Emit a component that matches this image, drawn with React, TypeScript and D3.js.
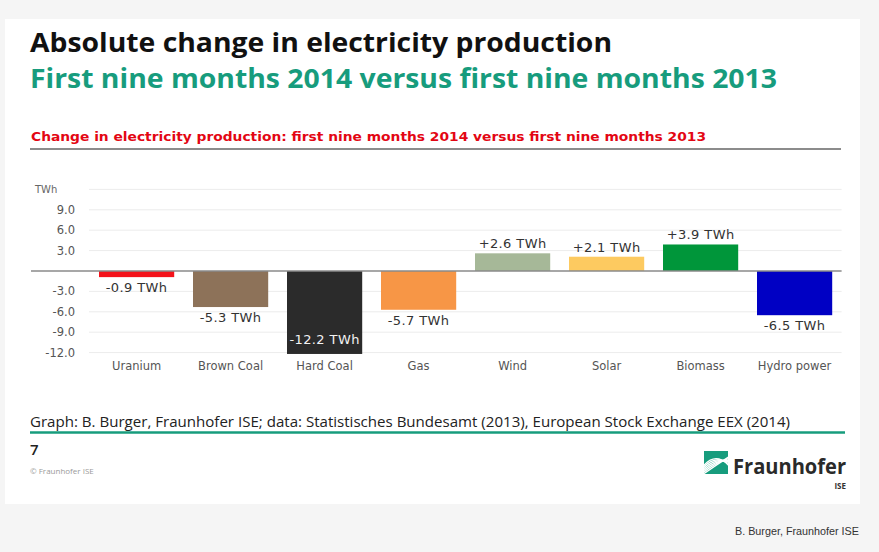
import React, {useEffect} from 'react';
import * as d3 from 'd3';

const categories = ['Uranium', 'Brown Coal', 'Hard Coal', 'Gas', 'Wind', 'Solar', 'Biomass', 'Hydro power'];
const changes = [-0.9, -5.3, -12.2, -5.7, 2.6, 2.1, 3.9, -6.5];
const barColors = ['#f4121a', '#8d7259', '#2b2b2b', '#f79646', '#a6b898', '#fdca60', '#00963a', '#0000c4'];
const yTicks = [9, 6, 3, -3, -6, -9, -12];
const gridValues = [12, 9, 6, 3, -3, -6, -9, -12];

const W = 879;
const H = 552;
const GREEN = '#179c7d';

const fmt = (v: number) => `${v > 0 ? '+' : ''}${v.toFixed(1)} TWh`;

const Logo: React.FC<{x: number; y: number}> = ({x, y}) => {
  // green square with white fanned stripes
  const stripes = [0, 1, 2, 3, 4, 5];
  return (
    <g transform={`translate(${x},${y})`}>
      <defs>
        <clipPath id="logoClip">
          <rect x={0} y={0} width={24} height={23} />
        </clipPath>
      </defs>
      <rect x={0} y={0} width={24} height={23} fill={GREEN} />
      <g clipPath="url(#logoClip)" stroke="#fff" strokeWidth={1.4} fill="none">
        {stripes.map((i) => (
          <path key={i} d={`M-2,${24 - i * 1.5} Q12,${14 - i * 3} 26,${5 + i * 2.2}`} />
        ))}
      </g>
    </g>
  );
};

const App: React.FC = () => {
  useEffect(() => {
    document.body.style.margin = '0';
  }, []);

  const x = d3.scaleBand<string>().domain(categories).range([89.6, 841.6]).paddingInner(0.2).paddingOuter(0.1);
  const y = d3.scaleLinear().domain([-12, 12]).range([352.6, 189.4]);
  const y0 = y(0);

  const tickFont = '"DejaVu Sans", Verdana, sans-serif';

  return (
    <svg width={W} height={H} style={{display: 'block', position: 'absolute', left: 0, top: 0}}>
      <rect x={0} y={0} width={W} height={H} fill="#f5f5f5" />
      <rect x={5} y={19} width={855} height={485} fill="#ffffff" />

      {/* titles */}
      <text x={30} y={52} fontFamily='"Open Sans", sans-serif' fontWeight={700} fontSize={27} fill="#111"
        textLength={582} lengthAdjust="spacingAndGlyphs">
        Absolute change in electricity production
      </text>
      <text x={30} y={88} fontFamily='"Open Sans", sans-serif' fontWeight={700} fontSize={26} fill={GREEN}
        textLength={747} lengthAdjust="spacingAndGlyphs">
        First nine months 2014 versus first nine months 2013
      </text>

      <text x={31} y={141} fontFamily={tickFont} fontWeight={700} fontSize={13} fill="#e30613"
        textLength={675} lengthAdjust="spacingAndGlyphs">
        Change in electricity production: first nine months 2014 versus first nine months 2013
      </text>
      <line x1={30} x2={841} y1={149} y2={149} stroke="#666" strokeWidth={1.6} />

      {/* grid */}
      {gridValues.map((v) => (
        <line key={v} x1={89} x2={841.6} y1={y(v)} y2={y(v)} stroke="#ececec" strokeWidth={1} />
      ))}
      {yTicks.map((v) => (
        <text key={v} x={75} y={y(v)} dy="0.35em" textAnchor="end" fontFamily={tickFont}
          fontSize={11.5} fill="#555">
          {v.toFixed(1)}
        </text>
      ))}
      <text x={35} y={y(12)} dy="0.35em" fontFamily={tickFont} fontSize={10} fill="#666">TWh</text>

      {/* bars */}
      {categories.map((c, i) => {
        const v = changes[i];
        const top = Math.min(y(v), y0);
        return (
          <rect key={c} x={x(c)} y={top} width={x.bandwidth()} height={Math.abs(y(v) - y0)}
            fill={barColors[i]} />
        );
      })}
      <line x1={31} x2={841.6} y1={y0} y2={y0} stroke="#8a8a8a" strokeWidth={1.6} />

      {/* value labels */}
      {categories.map((c, i) => {
        const v = changes[i];
        const cx = (x(c) ?? 0) + x.bandwidth() / 2;
        const inside = v < -10;
        const ly = v > 0 ? y(v) - 5 : inside ? y(v) - 10 : y(v) + 15;
        return (
          <text key={c} x={cx} y={ly} textAnchor="middle" fontFamily={tickFont} fontSize={13}
            letterSpacing={0.4} fill={inside ? '#f2f2f2' : '#333'}>
            {fmt(v)}
          </text>
        );
      })}

      {/* category labels */}
      {categories.map((c) => (
        <text key={c} x={(x(c) ?? 0) + x.bandwidth() / 2} y={370} textAnchor="middle" fontFamily={tickFont}
          fontSize={11.5} fill="#555">
          {c}
        </text>
      ))}

      {/* footer */}
      <text x={30} y={427} fontFamily='"Open Sans", sans-serif' fontSize={15} fill="#222"
        textLength={760} lengthAdjust="spacingAndGlyphs">
        Graph: B. Burger, Fraunhofer ISE; data: Statistisches Bundesamt (2013), European Stock Exchange EEX (2014)
      </text>
      <line x1={30} x2={845} y1={432.5} y2={432.5} stroke={GREEN} strokeWidth={2.5} />
      <text x={30} y={455} fontFamily='"Open Sans", sans-serif' fontWeight={600} fontSize={15} fill="#222">7</text>
      <text x={30} y={474} fontFamily='"Open Sans", sans-serif' fontSize={8} fill="#9a9a9a">© Fraunhofer ISE</text>

      <Logo x={704} y={451} />
      <text x={733} y={474} fontFamily='"Open Sans", sans-serif' fontWeight={700} fontSize={22} fill="#2a2a2a"
        textLength={113} lengthAdjust="spacingAndGlyphs">
        Fraunhofer
      </text>
      <text x={846} y={489} textAnchor="end" fontFamily='"Open Sans", sans-serif' fontWeight={700} fontSize={8}
        fill="#333">ISE</text>

      <text x={859} y={535} textAnchor="end" fontFamily='"Liberation Sans", sans-serif' fontSize={11.5} fill="#333"
        textLength={124} lengthAdjust="spacingAndGlyphs">
        B. Burger, Fraunhofer ISE
      </text>
    </svg>
  );
};

export default App;
